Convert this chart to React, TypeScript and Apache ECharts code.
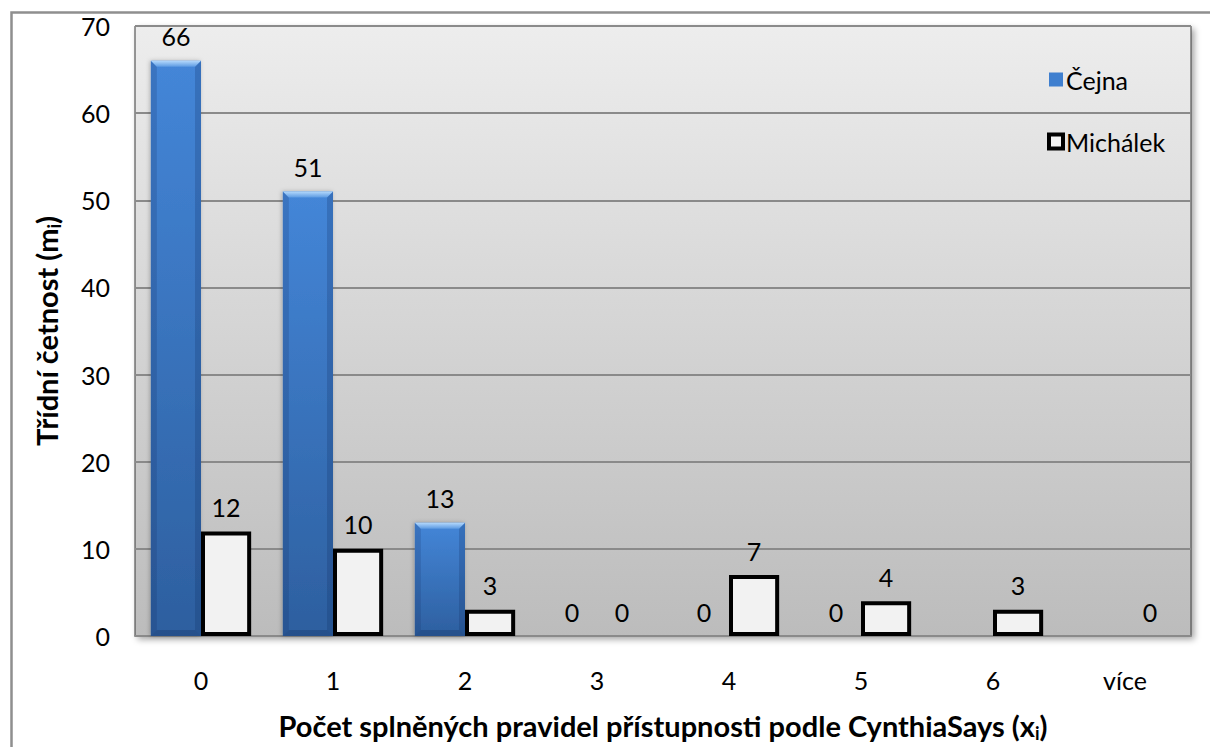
import React, { useEffect, useRef } from "react";
import * as echarts from "echarts";

// Category labels on the x axis (number of satisfied rules)
const categories = ["0", "1", "2", "3", "4", "5", "6", "více"];
// Class frequencies per author; null = no value reported
const cejna: (number | null)[] = [66, 51, 13, 0, 0, 0, null, null];
const michalek: (number | null)[] = [12, 10, 3, 0, 7, 4, 3, 0];
// Value axis range
const yMin = 0;
const yMax = 70;
const yStep = 10;

const FONT = "Lato, 'Open Sans', sans-serif";
const CAT_GAP = 0.24; // barCategoryGap as fraction

export default function App() {
  const ref = useRef<HTMLDivElement>(null);

  useEffect(() => {
    document.body.style.margin = "0";
    if (!ref.current) return;
    const chart = echarts.init(ref.current, null, { renderer: "svg" });

    const blueBody = new echarts.graphic.LinearGradient(0, 0, 0, 1, [
      { offset: 0, color: "#4486d8" },
      { offset: 1, color: "#2d5f9f" },
    ]);
    const bevelTop = new echarts.graphic.LinearGradient(0, 0, 0, 1, [
      { offset: 0, color: "#b3d8fc" },
      { offset: 1, color: "#5c9ae2" },
    ]);

    const labelStyle = {
      show: true,
      position: "top" as const,
      distance: 12,
      fontFamily: FONT,
      fontSize: 25,
      color: "#000",
    };

    const titleRich = {
      b: { fontFamily: FONT, fontSize: 29, fontWeight: "bold", color: "#000", lineHeight: 34 },
      s: {
        fontFamily: FONT,
        fontSize: 18,
        fontWeight: "bold",
        color: "#000",
        lineHeight: 18,
        verticalAlign: "bottom",
      },
    };

    const michalekData = michalek.map((v) =>
      v === 0 ? { value: v, itemStyle: { borderWidth: 0 } } : { value: v }
    );

    const bevelData = cejna
      .map((v, i) => [i, v])
      .filter((d) => d[1] !== null && (d[1] as number) > 0);

    chart.setOption({
      animation: false,
      backgroundColor: "#ffffff",
      textStyle: { fontFamily: FONT },
      graphic: [
        {
          type: "rect",
          left: 9,
          top: 10,
          shape: { x: 0, y: 0, width: 1220, height: 760 },
          style: { fill: "none", stroke: "#8f8f8f", lineWidth: 2.5 },
          silent: true,
          z: -1,
        },
      ],
      grid: {
        left: 135,
        right: 19,
        top: 26,
        bottom: 109,
        show: true,
        backgroundColor: new echarts.graphic.LinearGradient(0, 0, 0, 1, [
          { offset: 0, color: "#ededed" },
          { offset: 1, color: "#bcbcbc" },
        ]),
        borderColor: "#3a3a3a",
        borderWidth: 1,
        shadowColor: "rgba(0,0,0,0.35)",
        shadowBlur: 6,
        shadowOffsetX: 3,
        shadowOffsetY: 3,
      },
      legend: {
        orient: "vertical",
        left: 1042,
        top: 62,
        itemGap: 37,
        itemWidth: 14,
        itemHeight: 14,
        textStyle: { fontFamily: FONT, fontSize: 25, color: "#000", padding: [0, 0, 0, -2] },
        data: [
          { name: "Čejna", icon: "rect", itemStyle: { color: "#3f7fcf", borderWidth: 0 } },
          {
            name: "Michálek",
            icon: "rect",
            itemStyle: { color: "#f2f2f2", borderColor: "#000", borderWidth: 4 },
          },
        ],
      },
      xAxis: {
        type: "category",
        data: categories,
        axisLine: { show: true, lineStyle: { color: "#8a8a8a", width: 2 } },
        axisTick: { show: false },
        axisLabel: { fontFamily: FONT, fontSize: 25, color: "#000", margin: 31 },
        name: "{b|Počet splněných pravidel přístupnosti podle CynthiaSays (x}{s|i}{b|)}",
        nameLocation: "middle",
        nameGap: 72,
        nameTextStyle: { rich: titleRich },
      },
      yAxis: {
        type: "value",
        min: yMin,
        max: yMax,
        interval: yStep,
        axisLine: { show: false },
        axisTick: { show: false },
        axisLabel: { fontFamily: FONT, fontSize: 25, color: "#000", margin: 25 },
        splitLine: { show: true, lineStyle: { color: "#8a8a8a", width: 2 } },
        name: "{b|Třídní četnost (m}{s|i}{b|)}",
        nameLocation: "middle",
        nameRotate: 90,
        nameGap: 72,
        nameTextStyle: { rich: titleRich },
      },
      series: [
        {
          name: "Čejna",
          type: "bar",
          data: cejna,
          barGap: "0%",
          barCategoryGap: CAT_GAP * 100 + "%",
          itemStyle: {
            color: blueBody,
            shadowColor: "rgba(0,0,0,0.25)",
            shadowBlur: 4,
            shadowOffsetX: -1,
          },
          label: labelStyle,
          z: 3,
        },
        {
          name: "Michálek",
          type: "bar",
          data: michalekData,
          barGap: "0%",
          barCategoryGap: CAT_GAP * 100 + "%",
          itemStyle: { color: "#f2f2f2", borderColor: "#000", borderWidth: 4 },
          label: labelStyle,
          z: 3,
        },
        {
          // bevel highlights drawn on top of the blue bars
          name: "bevel",
          type: "custom",
          silent: true,
          z: 4,
          encode: { x: 0, y: 1 },
          data: bevelData,
          renderItem: (params: any, api: any) => {
            const cat = api.value(0);
            const v = api.value(1);
            const top = api.coord([cat, v]);
            const base = api.coord([cat, 0]);
            const catW = api.size([1, 0])[0];
            const bw = (catW * (1 - CAT_GAP)) / 2;
            const x1 = top[0];
            const x0 = x1 - bw;
            const y0 = top[1];
            const yb = base[1];
            const b = Math.min(6, (yb - y0) / 2);
            return {
              type: "group",
              children: [
                {
                  type: "polygon",
                  shape: { points: [[x0, y0], [x0 + b, y0 + b], [x0 + b, yb - b], [x0, yb]] },
                  style: { fill: "rgba(15,40,90,0.18)" },
                },
                {
                  type: "polygon",
                  shape: { points: [[x1, y0], [x1 - b, y0 + b], [x1 - b, yb - b], [x1, yb]] },
                  style: { fill: "rgba(15,40,90,0.22)" },
                },
                {
                  type: "polygon",
                  shape: { points: [[x0, yb], [x0 + b, yb - b], [x1 - b, yb - b], [x1, yb]] },
                  style: { fill: "rgba(15,35,80,0.25)" },
                },
                {
                  type: "polygon",
                  shape: { points: [[x0, y0], [x1, y0], [x1 - b, y0 + b], [x0 + b, y0 + b]] },
                  style: { fill: bevelTop },
                },
              ],
            };
          },
        },
      ],
    });

    return () => chart.dispose();
  }, []);

  return <div ref={ref} style={{ width: 1210, height: 747 }} />;
}
